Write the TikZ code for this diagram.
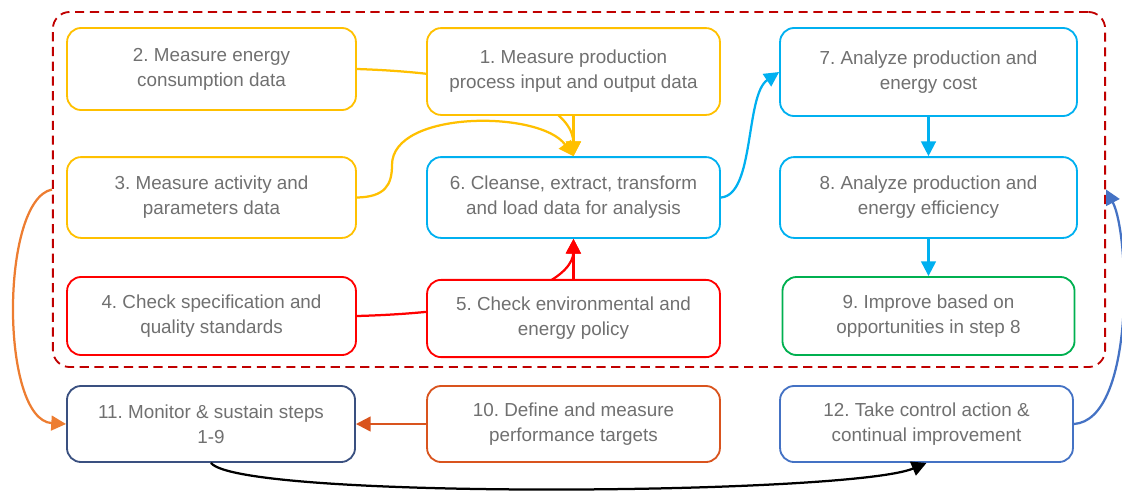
\documentclass[tikz,border=0pt]{standalone}
\usepackage{fontspec}
\setmainfont{Liberation Sans}
\usetikzlibrary{arrows.meta,backgrounds}
\frenchspacing

\definecolor{stepyellow}{HTML}{FFC000}
\definecolor{stepblue}{HTML}{00B0F0}
\definecolor{stepred}{HTML}{FF0000}
\definecolor{stepgreen}{HTML}{00B050}
\definecolor{stepnavy}{HTML}{3A5080}
\definecolor{steprust}{HTML}{D9541E}
\definecolor{stepsteel}{HTML}{4472C4}
\definecolor{steporange}{HTML}{ED7D31}
\definecolor{framered}{HTML}{C00000}
\definecolor{textgray}{HTML}{707070}

\tikzset{
  stepbox/.style={draw, rounded corners=10pt, fill=white, line width=1.3pt,
    align=center, text=textgray, inner sep=0pt,
    font=\fontsize{13.4}{17.8}\selectfont},
  link/.style={->, line width=1.6pt},
}

\begin{document}
\begin{tikzpicture}[x=0.025cm, y=-0.025cm, >={Triangle[length=10.5pt,width=10.5pt]}]
\useasboundingbox (0,0) rectangle (1122,495);
\node[draw=framered, line width=1.3pt, dash pattern=on 6.5pt off 4pt, rounded corners=12pt,
  minimum width=26.3cm, minimum height=8.875cm] (frame) at (579,189.5) {};

\node[stepbox, draw=stepyellow, minimum width=7.22cm, minimum height=2.05cm] (m2) at (211.5,69) {2. Measure energy\\consumption data};
\node[stepbox, draw=stepyellow, minimum width=7.32cm, minimum height=2.17cm] (m1) at (573.5,71.5) {1. Measure production\\process input and output data};
\node[stepbox, draw=stepblue, minimum width=7.42cm, minimum height=2.2cm] (m7) at (928.5,72) {7. Analyze production and\\energy cost};
\node[stepbox, draw=stepyellow, minimum width=7.22cm, minimum height=2.02cm] (m3) at (211.5,197.5) {3. Measure activity and\\parameters data};
\node[stepbox, draw=stepblue, minimum width=7.32cm, minimum height=2.02cm] (m6) at (573.5,197.5) {6. Cleanse, extract, transform\\and load data for analysis};
\node[stepbox, draw=stepblue, minimum width=7.42cm, minimum height=2.02cm] (m8) at (928.5,197.5) {8. Analyze production and\\energy efficiency};
\node[stepbox, draw=stepred, minimum width=7.22cm, minimum height=1.95cm] (m4) at (211.5,316) {4. Check specification and\\quality standards};
\node[stepbox, draw=stepred, minimum width=7.32cm, minimum height=1.93cm] (m5) at (573.5,318.5) {5. Check environmental and\\energy policy};
\node[stepbox, draw=stepgreen, minimum width=7.3cm, minimum height=1.95cm] (m9) at (928.5,316) {9. Improve based on\\opportunities in step 8};
\node[stepbox, draw=stepnavy, minimum width=7.2cm, minimum height=1.9cm] (m11) at (211,424) {11. Monitor \& sustain steps\\1-9};
\node[stepbox, draw=steprust, minimum width=7.32cm, minimum height=1.9cm] (m10) at (573.5,424) {10. Define and measure\\performance targets};
\node[stepbox, draw=stepsteel, minimum width=7.32cm, minimum height=1.9cm] (m12) at (926.5,424) {12. Take control action \&\\continual improvement};

\begin{scope}[on background layer]
\draw[link, stepyellow] (m2.east) .. controls (540,75) and (573,120) .. (m6.north);
\draw[link, stepred] (m4.east) .. controls (540,311) and (573,270) .. (m6.south);
\end{scope}
\draw[link, stepyellow] (m1) -- (m6);
\draw[link, stepyellow] (m3.east) .. controls (385,197) and (392,185) .. (392,165)
  .. controls (392,110) and (540,110) .. (m6.north);
\draw[link, stepred] (m5) -- (m6);
\draw[link, stepblue] (m6.east) .. controls (755,195) and (745,95) .. (m7.west);
\draw[link, stepblue] (m7) -- (m8);
\draw[link, stepblue] (m8) -- (m9);
\draw[link, steporange] (frame.west) .. controls (0,200) and (0,420) .. (m11.west);
\draw[link, stepsteel] (m12.east) .. controls (1135,420) and (1130,235) .. (frame.east);
\draw[link, steprust] (m10) -- (m11);
\draw[link, black] (m11.south) .. controls (240,500) and (850,495) .. (m12.south);
\end{tikzpicture}
\end{document}
